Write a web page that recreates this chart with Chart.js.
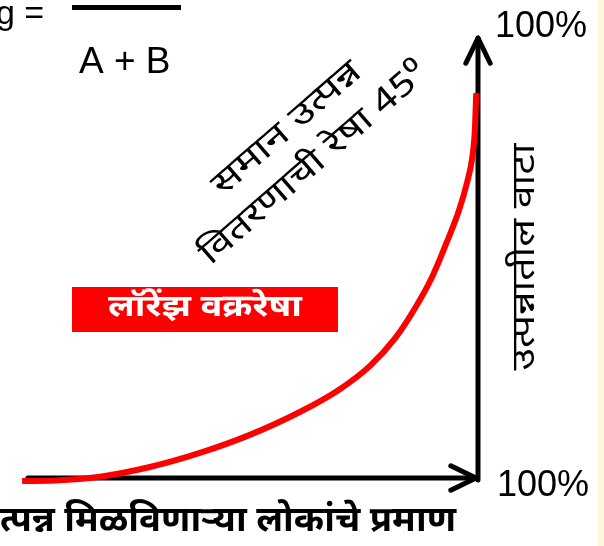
<!DOCTYPE html>
<html>
<head>
<meta charset="utf-8">
<script src="https://cdn.jsdelivr.net/npm/chart.js@4"></script>
<style>
  html, body { margin: 0; padding: 0; background: #ffffff; }
  #wrap { width: 604px; height: 546px; position: relative; }
</style>
</head>
<body>
<div id="wrap"><canvas id="grafico" width="604" height="546"></canvas></div>
<script>
//===============================================================
// ========================== DADOS =============================
//===============================================================
// Lorenz curve (x = % of people, y = % of income)
const curvaX = [-1.3, 7.1, 16.0, 27.1, 38.2, 49.3, 60.4, 69.3, 76.0, 81.6, 86.0, 89.8, 92.9, 95.8, 97.6, 98.7, 99.3, 99.6];
const curvaY = [-0.7, -0.5, 0.3, 2.5, 5.7, 9.8, 15.0, 20.2, 25.5, 31.8, 38.6, 45.7, 53.2, 60.9, 67.3, 72.7, 79.1, 87.5];

const eixoX = [0, 100];
const eixoY = [0, 100];

const rotuloTopo = "100%";
const rotuloDireita = "100%";
const tituloX = "उत्पन्न मिळविणाऱ्या लोकांचे प्रमाण";
const tituloY = "उत्पन्नातील वाटा";
const rotuloCurva = "लॉरेंझ वक्ररेषा";
const rotuloIgualdade = ["समान उत्पन्न", "वितरणाची रेषा 45⁰"];
const formula = ["g =", "A + B"];

const fonteDeva = '"Noto Sans Devanagari", "Noto Sans", "Lohit Devanagari", sans-serif';

//===============================================================
// ======================== FUNÇÕES =============================
//===============================================================
function seta(ctx, x1, y1, x2, y2) {
    const ang = Math.atan2(y2 - y1, x2 - x1);
    const len = 28, abre = 0.45;
    ctx.beginPath();
    ctx.moveTo(x1, y1);
    ctx.lineTo(x2, y2);
    ctx.stroke();
    ctx.beginPath();
    ctx.moveTo(x2 - len * Math.cos(ang - abre), y2 - len * Math.sin(ang - abre));
    ctx.lineTo(x2, y2);
    ctx.lineTo(x2 - len * Math.cos(ang + abre), y2 - len * Math.sin(ang + abre));
    ctx.stroke();
}

// draws text centred at (cx, cy), rotated, stretched along its baseline to a given length
function textoAjustado(ctx, texto, cx, cy, angulo, largura, fonte) {
    ctx.save();
    ctx.font = fonte;
    const w = ctx.measureText(texto).width;
    ctx.translate(cx, cy);
    ctx.rotate(angulo * Math.PI / 180);
    ctx.scale(largura / w, 1);
    ctx.textAlign = "center";
    ctx.textBaseline = "middle";
    ctx.fillText(texto, 0, 0);
    ctx.restore();
}

//===============================================================
// ======================== PLUGINS =============================
//===============================================================
const eixos = {
    id: "eixos",
    beforeDatasetsDraw(chart) {
        const ctx = chart.ctx;
        const sx = chart.scales.x, sy = chart.scales.y;
        const x0 = sx.getPixelForValue(eixoX[0]), x1 = sx.getPixelForValue(eixoX[1]);
        const y0 = sy.getPixelForValue(eixoY[0]), y1 = sy.getPixelForValue(eixoY[1]);
        ctx.save();
        ctx.strokeStyle = "#000";
        ctx.lineWidth = 5;
        ctx.lineCap = "round";
        ctx.lineJoin = "round";
        seta(ctx, x0, y0, x1 - 2, y0);
        seta(ctx, x1, y0 + 2, x1, y1);
        ctx.restore();
    }
};

const textos = {
    id: "textos",
    afterDraw(chart) {
        const ctx = chart.ctx;
        ctx.save();
        ctx.fillStyle = "#000";

        // formula at the top
        ctx.font = "34px Arial, 'Liberation Sans', sans-serif";
        ctx.textAlign = "left";
        ctx.textBaseline = "alphabetic";
        ctx.fillText(formula[0], -4, 24);
        ctx.fillRect(72, 5, 109, 5);
        ctx.font = "37px Arial, 'Liberation Sans', sans-serif";
        ctx.fillText(formula[1], 79, 73);

        // 100% labels
        ctx.font = "36px Arial, 'Liberation Sans', sans-serif";
        ctx.fillText(rotuloTopo, 495, 37);
        ctx.fillText(rotuloDireita, 497, 496);

        // x title, its first letter is cut off by the left edge
        ctx.save();
        ctx.font = "bold 35px " + fonteDeva;
        const visivel = ctx.measureText(tituloX.slice(1)).width;
        ctx.translate(456, 524);
        ctx.scale(456 / visivel, 1);
        ctx.textAlign = "right";
        ctx.textBaseline = "middle";
        ctx.fillText(tituloX, 0, 0);
        ctx.restore();

        // y title
        textoAjustado(ctx, tituloY, 528, 257, -90, 227, "32px " + fonteDeva);

        // equality line label
        textoAjustado(ctx, rotuloIgualdade[0], 289, 131, -41, 186, "33px " + fonteDeva);
        textoAjustado(ctx, rotuloIgualdade[1], 316, 166, -41, 290, "33px " + fonteDeva);

        // red box label
        ctx.fillStyle = "#ff0000";
        ctx.fillRect(72, 287, 266, 45);
        ctx.fillStyle = "#ffffff";
        textoAjustado(ctx, rotuloCurva, 205, 310, 0, 194, "bold 31px " + fonteDeva);

        // slide edge
        ctx.fillStyle = "#fbf6dc";
        ctx.fillRect(598, 0, 6, 546);
        ctx.restore();
    }
};

//===============================================================
// ========================= GRÁFICO ============================
//===============================================================
const pontos = curvaX.map((x, i) => ({ x: x, y: curvaY[i] }));

new Chart(document.getElementById("grafico"), {
    type: "line",
    data: {
        datasets: [{
            data: pontos,
            borderColor: "#ff0000",
            borderWidth: 6,
            pointRadius: 0,
            fill: false,
            cubicInterpolationMode: "monotone"
        }]
    },
    options: {
        responsive: false,
        animation: false,
        devicePixelRatio: 1,
        layout: { padding: 0 },
        plugins: { legend: { display: false }, tooltip: { enabled: false } },
        scales: {
            x: { type: "linear", display: false, min: -6.22, max: 128.0 },
            y: { type: "linear", display: false, min: -15.45, max: 108.64 }
        }
    },
    plugins: [eixos, textos]
});
</script>
</body>
</html>
